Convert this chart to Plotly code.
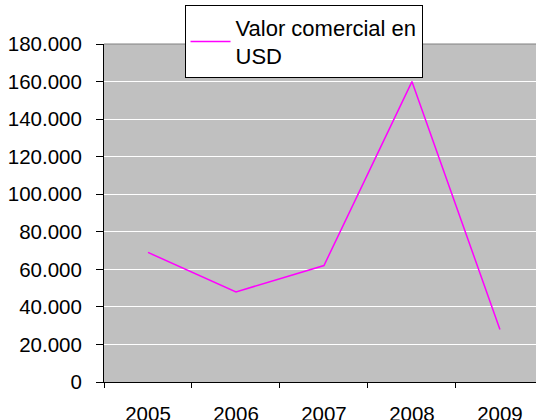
import plotly.graph_objects as go

years = ["2005", "2006", "2007", "2008", "2009"]
valor_usd = [69000, 48000, 62000, 160000, 28000]
series_name = "Valor comercial en<br>USD"
y_ticks = [0, 20000, 40000, 60000, 80000, 100000, 120000, 140000, 160000, 180000]

FONT = "Liberation Sans, Arial, sans-serif"

fig = go.Figure()
fig.add_trace(go.Scatter(
    x=years, y=valor_usd, mode="lines", name=series_name,
    line=dict(color="#FF00FF", width=1.5),
))

fig.update_layout(
    width=536, height=420,
    margin=dict(l=104, r=0, t=44, b=38, autoexpand=False),
    paper_bgcolor="white",
    plot_bgcolor="#C0C0C0",
    separators=",.",
    font=dict(family=FONT, size=20.5, color="black"),
    showlegend=True,
    legend=dict(
        x=0.1864, y=1.114, xanchor="left", yanchor="top",
        bgcolor="white", bordercolor="black", borderwidth=1,
        font=dict(size=22),
        itemwidth=40,
    ),
    xaxis=dict(
        type="category",
        range=[-0.5, 4.41],
        tickson="boundaries",
        ticks="outside", ticklen=5, tickcolor="black",
        showline=True, linecolor="black", linewidth=1,
        showgrid=False,
        automargin=False,
        ticklabelstandoff=13,
        tickfont=dict(size=20.5),
    ),
    yaxis=dict(
        range=[0, 180000],
        tickvals=y_ticks,
        tickformat=",d",
        ticks="outside", ticklen=7, tickcolor="black",
        showline=True, linecolor="black", linewidth=1,
        showgrid=True, gridcolor="white", gridwidth=1,
        zeroline=False,
        automargin=False,
        ticklabelstandoff=10,
        tickfont=dict(size=20.5),
    ),
    shapes=[dict(type="line", xref="paper", yref="paper", x0=0, x1=1, y0=1, y1=1,
                 line=dict(color="#808080", width=1))],
)

fig.write_html(
    "out.html",
    config={"displayModeBar": False},
    post_script="document.body.style.margin='0';document.body.style.overflow='hidden';",
)
